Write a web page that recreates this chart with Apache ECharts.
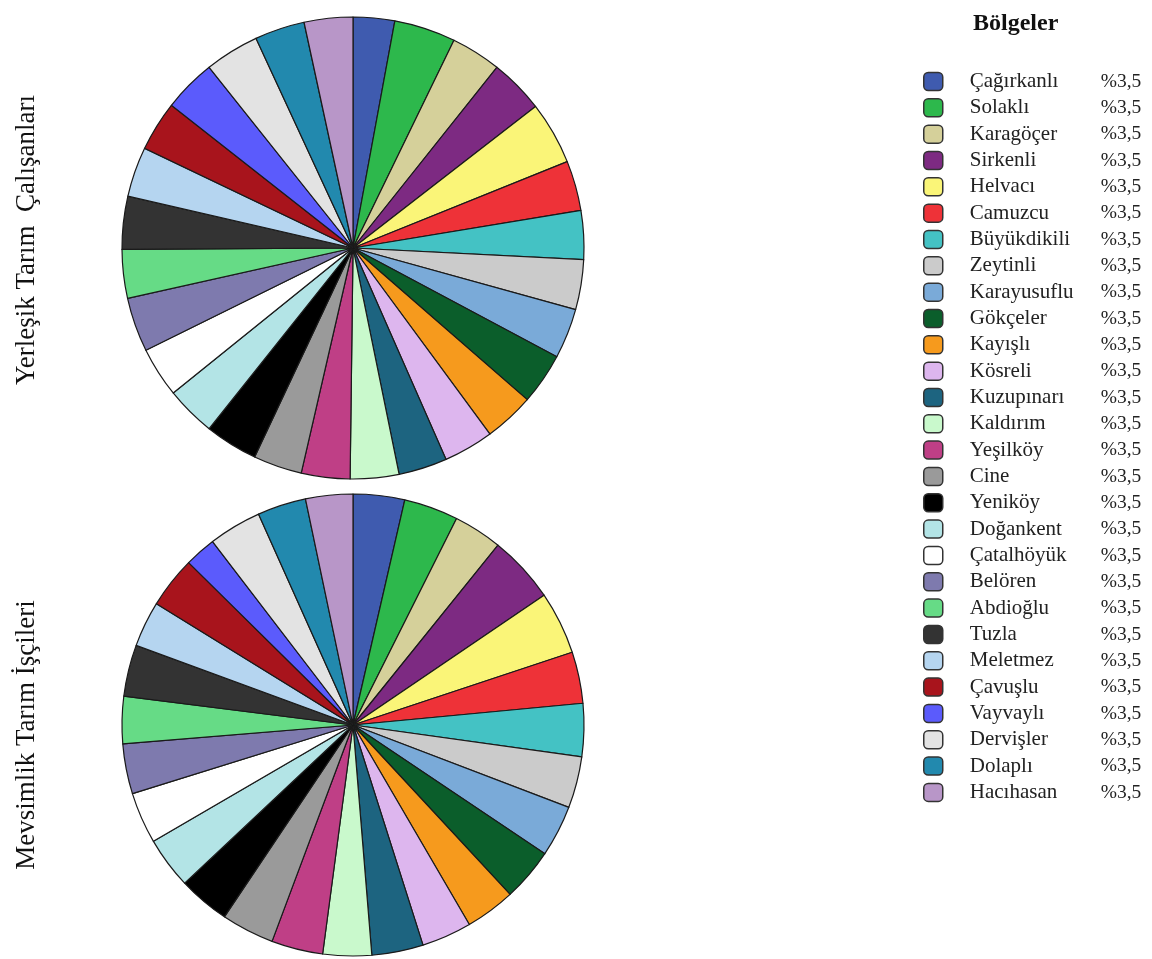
<!DOCTYPE html>
<html>
<head>
<meta charset="utf-8">
<script src="https://cdn.jsdelivr.net/npm/echarts@6/dist/echarts.min.js"></script>
<style>html,body{margin:0;padding:0;background:#fff;}#c{width:1152px;height:959px;}</style>
</head>
<body>
<div id="c"></div>
<script>
const regions = ['Çağırkanlı','Solaklı','Karagöçer','Sirkenli','Helvacı','Camuzcu','Büyükdikili','Zeytinli','Karayusuflu','Gökçeler','Kayışlı','Kösreli','Kuzupınarı','Kaldırım','Yeşilköy','Cine','Yeniköy','Doğankent','Çatalhöyük','Belören','Abdioğlu','Tuzla','Meletmez','Çavuşlu','Vayvaylı','Dervişler','Dolaplı','Hacıhasan'];
const legendPct = ['%3,5','%3,5','%3,5','%3,5','%3,5','%3,5','%3,5','%3,5','%3,5','%3,5','%3,5','%3,5','%3,5','%3,5','%3,5','%3,5','%3,5','%3,5','%3,5','%3,5','%3,5','%3,5','%3,5','%3,5','%3,5','%3,5','%3,5','%3,5'];
// slice shares
const yerlesik = [2.9,4.3,3.5,3.8,4.4,3.5,3.4,3.5,3.5,3.6,3.5,3.5,3.4,3.4,3.4,3.4,3.7,3.5,3.5,3.8,3.4,3.7,3.5,3.5,3.7,3.8,3.5,3.4];
const mevsimlik = [3.6,3.8,3.4,4.7,4.4,3.6,3.7,3.6,3.6,3.7,3.5,3.5,3.6,3.4,3.6,3.7,3.6,3.6,3.6,3.5,3.3,3.6,3.2,3.6,2.2,3.7,3.4,3.3];
const colors = ['#3F5BAF','#2DB84C','#D5D09A','#7D2A82','#FAF578','#EE3238','#44C2C4','#CBCBCB','#7AAAD8','#0B5E2B','#F69A1D','#DDB6EE','#1D6480','#C9F9CC','#BF3F86','#9A9A9A','#000000','#B3E4E6','#FFFFFF','#7E7AAE','#66DB86','#333333','#B5D5F0','#A8141C','#5B5BFC','#E3E3E3','#2289AE','#B896C8'];
const titleTop = 'Yerleşik Tarım  Çalışanları';
const titleBottom = 'Mevsimlik Tarım İşçileri';
const legendTitle = 'Bölgeler';

const serif = '"Liberation Serif", "DejaVu Serif", serif';
function mk(vals){ return regions.map((n,i)=>({name:n, value:vals[i], itemStyle:{color:colors[i]}})); }
const pctMap = {}; regions.forEach((n,i)=>pctMap[n]=legendPct[i]);

const chart = echarts.init(document.getElementById('c'));
chart.setOption({
  backgroundColor:'#fff',
  animation:false,
  color: colors,
  title:{text:legendTitle, left:968, top:7, textStyle:{fontFamily:serif, fontWeight:'bold', fontSize:24, color:'#111'}},
  legend:{
    orient:'vertical', left:923, top:71, padding:0,
    itemWidth:19, itemHeight:18, itemGap:5.33, icon:'roundRect',
    itemStyle:{borderColor:'#333', borderWidth:1.5},
    data: regions,
    formatter: n => '{n|'+n+'}{p|'+pctMap[n]+'}',
    textStyle:{fontFamily:serif, fontSize:21, color:'#222',
      rich:{n:{fontFamily:serif,fontSize:21,color:'#222',width:131,lineHeight:18,padding:[0,0,0,22]},
            p:{fontFamily:serif,fontSize:19.5,color:'#222',lineHeight:18}}}
  },
  graphic:[
    {type:'text', id:'t1', rotation:Math.PI/2, x:27, y:240, style:{text:titleTop, font:'27px '+serif, fill:'#111', align:'center', verticalAlign:'middle'}},
    {type:'text', id:'t2', rotation:Math.PI/2, x:27, y:735, style:{text:titleBottom, font:'27px '+serif, fill:'#111', align:'center', verticalAlign:'middle'}}
  ],
  series:[
    {type:'pie', center:[353,248], radius:231, startAngle:90, clockwise:true,
     label:{show:false}, labelLine:{show:false}, emphasis:{disabled:true},
     itemStyle:{borderColor:'#1a1a1a', borderWidth:1.2}, data:mk(yerlesik)},
    {type:'pie', center:[353,725], radius:231, startAngle:90, clockwise:true,
     label:{show:false}, labelLine:{show:false}, emphasis:{disabled:true},
     itemStyle:{borderColor:'#1a1a1a', borderWidth:1.2}, data:mk(mevsimlik)}
  ]
});
</script>
</body>
</html>
